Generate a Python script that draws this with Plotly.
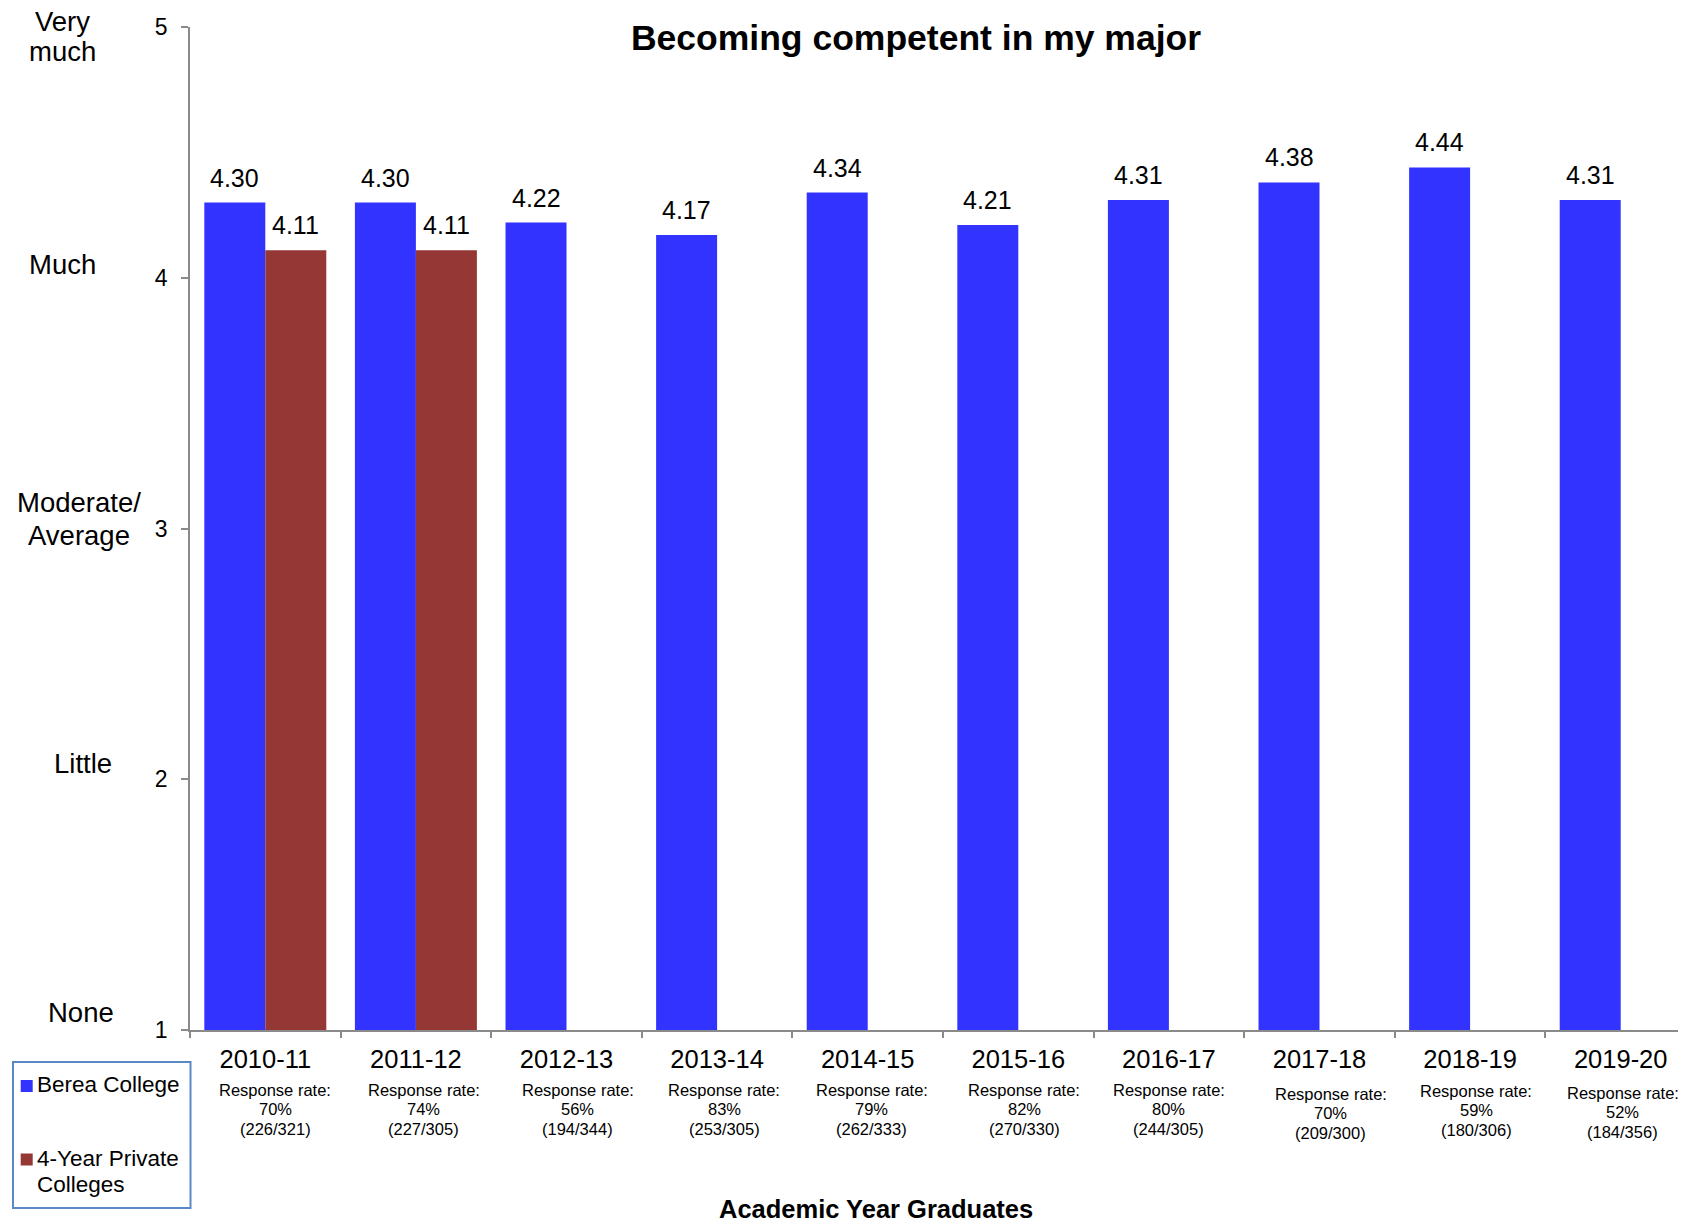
import plotly.graph_objects as go

# ---------------- data ----------------
categories = ["2010-11", "2011-12", "2012-13", "2013-14", "2014-15",
              "2015-16", "2016-17", "2017-18", "2018-19", "2019-20"]
berea = [4.30, 4.30, 4.22, 4.17, 4.34, 4.21, 4.31, 4.38, 4.44, 4.31]
private = [4.11, 4.11, None, None, None, None, None, None, None, None]
response_pct = ["70%", "74%", "56%", "83%", "79%", "82%", "80%", "70%", "59%", "52%"]
response_n = ["226/321", "227/305", "194/344", "253/305", "262/333",
              "270/330", "244/305", "209/300", "180/306", "184/356"]
scale_labels = ["Very<br>much", "Much", "Moderate/<br>Average", "Little", "None"]
series_names = ["Berea College", "4-Year Private<br>Colleges"]
title_text = "Becoming competent in my major"
xaxis_title = "Academic Year Graduates"

# ---------------- layout geometry ----------------
# page pixels are measured on the 1686x1223 page; the body has an 8px margin
OFF = 8
W, H = 1686 - OFF, 1223 - OFF
L, T, R = 190 - OFF, 27 - OFF, 0
PLOT_BOTTOM = 1030 - OFF
B = H - PLOT_BOTTOM
PW, PH = W - L - R, PLOT_BOTTOM - T
CAT_PX = 150.6
FONT = "Liberation Sans, Arial, sans-serif"
BLUE = "#3333FF"
RED = "#953735"
AXIS = "#8a8a8a"
LEGEND_BORDER = "#5a8ac6"


def px_x(page_px):
    return (page_px - OFF - L) / PW


def px_y(page_py):
    return (PLOT_BOTTOM - (page_py - OFF)) / PH


fig = go.Figure()
fig.add_trace(go.Bar(x=categories, y=berea, name=series_names[0],
                     marker=dict(color=BLUE, line=dict(width=0)), hoverinfo="x+y"))
fig.add_trace(go.Bar(x=categories, y=private, name=series_names[1],
                     marker=dict(color=RED, line=dict(width=0)), hoverinfo="x+y"))

bargap = 0.19
bar_px = CAT_PX * (1 - bargap) / 2
annotations = []
shapes = []

# data labels above bars
for series, side in ((berea, -1), (private, 1)):
    for c, v in zip(categories, series):
        if v is not None:
            annotations.append(dict(x=c, y=v, xref="x", yref="y", text=f"{v:.2f}",
                                    showarrow=False, xshift=side * bar_px / 2, yshift=25,
                                    yanchor="middle",
                                    font=dict(size=25, color="black", family=FONT)))

# response rate notes under each category (three lines)
note_dx = [10, 8, 11, 7, 4, 6, 0, 11, 6, 2]
note_dy = [0, 0, 0, 0, 0, 0, 0, 4, 1, 3]
line_pos = [1089.5, 1109, 1129]
for c, p, n, dx, dy in zip(categories, response_pct, response_n, note_dx, note_dy):
    for txt, yp in zip(["Response rate:", p, f"({n})"], line_pos):
        annotations.append(dict(x=c, y=px_y(yp + dy), xref="x", yref="paper",
                                text=txt, showarrow=False, xshift=dx,
                                yanchor="middle", xanchor="center",
                                font=dict(size=16.5, color="black", family=FONT)))

# verbal scale labels on the left (one annotation per text line)
scale_x = [63, 63, 79, 83, 81]
scale_line_y = [[21, 52], [264], [503, 535.5], [763], [1012]]
for lab, xp, ys in zip(scale_labels, scale_x, scale_line_y):
    for part, yp in zip(lab.split("<br>"), ys):
        annotations.append(dict(x=px_x(xp), y=px_y(yp), xref="paper", yref="paper",
                                text=part, showarrow=False, xanchor="center",
                                yanchor="middle",
                                font=dict(size=27.5, color="black", family=FONT)))

# x axis title
annotations.append(dict(x=px_x(876), y=px_y(1209), xref="paper", yref="paper",
                        text=f"<b>{xaxis_title}</b>", showarrow=False,
                        xanchor="center", yanchor="middle",
                        font=dict(size=25.5, color="black", family=FONT)))

# legend (boxed, bottom-left)
shapes.append(dict(type="rect", xref="paper", yref="paper",
                   x0=px_x(13), x1=px_x(190.5), y0=px_y(1208), y1=px_y(1062),
                   line=dict(color=LEGEND_BORDER, width=2), fillcolor="white", layer="above"))
legend_rows = [(series_names[0], BLUE, 1086, [1084]),
               (series_names[1], RED, 1159.5, [1158, 1184])]
for name, col, sq_y, txt_ys in legend_rows:
    shapes.append(dict(type="rect", xref="paper", yref="paper",
                       x0=px_x(20.7), x1=px_x(32.7), y0=px_y(sq_y + 6), y1=px_y(sq_y - 6),
                       line=dict(width=0), fillcolor=col, layer="above"))
    for part, yp in zip(name.split("<br>"), txt_ys):
        annotations.append(dict(x=px_x(35), y=px_y(yp), xref="paper", yref="paper",
                                text=part, showarrow=False, xanchor="left",
                                yanchor="middle", align="left",
                                font=dict(size=22.5, color="black", family=FONT)))

fig.update_layout(
    width=W, height=H,
    margin=dict(l=L, r=R, t=T, b=B, pad=0, autoexpand=False),
    paper_bgcolor="white", plot_bgcolor="white",
    barmode="group", bargap=bargap, bargroupgap=0,
    font=dict(family=FONT, color="black"),
    showlegend=False,
    title=dict(text=f"<b>{title_text}</b>", x=px_x(916), xref="paper", xanchor="center",
               y=1 - (38 - OFF) / H, yref="container", yanchor="middle",
               font=dict(size=35.5, color="black", family=FONT)),
    xaxis=dict(type="category", range=[-0.5, -0.5 + PW / CAT_PX],
               showline=True, linecolor=AXIS, linewidth=1.5,
               ticks="outside", tickson="boundaries", ticklen=6, tickcolor=AXIS, tickwidth=1.5,
               tickfont=dict(size=25.5, color="black", family=FONT),
               ticklabelstandoff=6, showgrid=False, zeroline=False),
    yaxis=dict(range=[1, 5], dtick=1, tick0=1,
               showline=True, linecolor=AXIS, linewidth=1.5,
               ticks="outside", ticklen=7, tickcolor=AXIS, tickwidth=1.5,
               tickfont=dict(size=23, color="black", family=FONT),
               ticklabelstandoff=9, showgrid=False, zeroline=False),
    annotations=annotations,
    shapes=shapes,
)

fig.write_html("out.html")
